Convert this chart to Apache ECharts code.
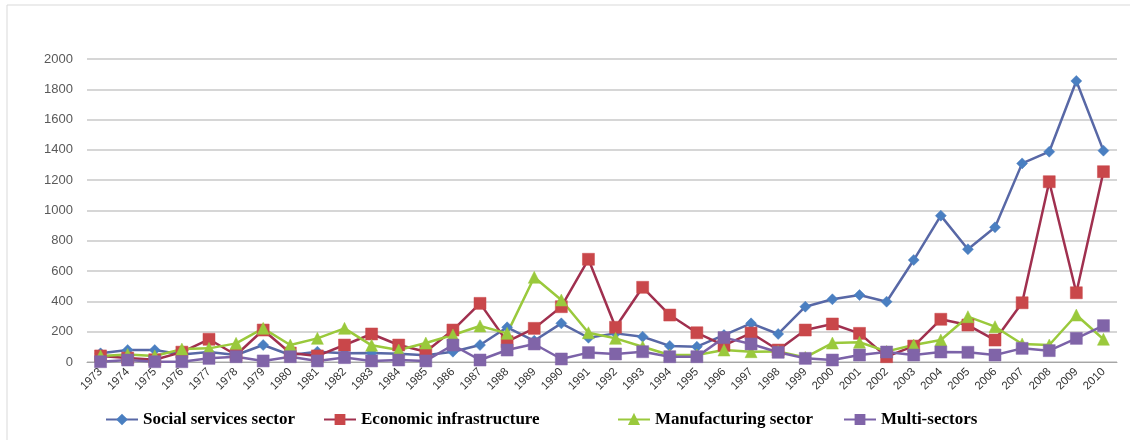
<!DOCTYPE html>
<html>
<head>
<meta charset="utf-8">
<script src="https://cdn.jsdelivr.net/npm/echarts@6/dist/echarts.min.js"></script>
<style>
  html, body { margin: 0; padding: 0; background: #fff; }
  #main { width: 1130px; height: 440px; }
</style>
</head>
<body>
<div id="main"></div>
<script>
var years = [];
for (var y = 1973; y <= 2010; y++) years.push(String(y));

var seriesNames = ['Social services sector', 'Economic infrastructure', 'Manufacturing sector', 'Multi-sectors'];
var social = [57, 79, 79, 50, 66, 46, 112, 46, 68, 57, 60, 55, 45, 68, 112, 229, 140, 255, 160, 189, 167, 106, 101, 178, 255, 185, 365, 414, 442, 398, 673, 966, 744, 889, 1311, 1388, 1855, 1395];
var economic = [40, 26, 15, 65, 150, 46, 211, 59, 40, 112, 185, 112, 68, 211, 387, 134, 222, 365, 678, 229, 493, 310, 193, 110, 191, 79, 211, 251, 189, 35, 105, 282, 244, 145, 391, 1190, 457, 1256];
var manufacturing = [40, 50, 40, 85, 90, 123, 222, 112, 156, 222, 110, 79, 125, 178, 238, 189, 559, 409, 193, 156, 101, 46, 46, 79, 68, 70, 30, 125, 130, 70, 112, 145, 299, 233, 119, 112, 310, 150];
var multi = [2, 13, 2, 2, 24, 35, 7, 35, 7, 29, 7, 13, 7, 112, 13, 79, 119, 20, 62, 53, 68, 35, 35, 161, 119, 64, 24, 13, 46, 66, 46, 66, 64, 46, 90, 75, 156, 240];

var chart = echarts.init(document.getElementById('main'));

function mk(name, data, symbol, size, lineColor, markColor) {
    return {
        name: name,
        type: 'line',
        data: data,
        symbol: symbol,
        symbolSize: size,
        showAllSymbol: true,
        lineStyle: { color: lineColor, width: 2.5 },
        itemStyle: { color: markColor, borderColor: markColor, borderWidth: 0.5 },
        emphasis: { disabled: true }
    };
}

// one legend per item so each can sit where the original puts it
var legendLeft = [100, 318, 612, 838];
var legends = seriesNames.map(function (n, i) {
    return {
        bottom: 7,
        left: legendLeft[i],
        itemWidth: 32,
        itemHeight: 11,
        textStyle: { fontFamily: 'Liberation Serif', fontWeight: 'bold', fontSize: 17, color: '#000' },
        data: [n]
    };
});

var option = {
    animation: false,
    graphic: [{
        type: 'rect',
        shape: { x: 7, y: 5, width: 1140, height: 450 },
        style: { fill: 'none', stroke: '#d9d9d9', lineWidth: 1 }
    }],
    grid: { left: 87, right: 13, top: 59, bottom: 78 },
    legend: legends,
    xAxis: {
        type: 'category',
        data: years,
        boundaryGap: true,
        axisLine: { lineStyle: { color: '#a6a6a6' } },
        axisTick: { show: false },
        axisLabel: { rotate: 45, interval: 0, fontSize: 11.5, color: '#333', fontFamily: 'Liberation Sans', margin: 8 }
    },
    yAxis: {
        type: 'value',
        min: 0,
        max: 2000,
        interval: 200,
        axisLine: { show: false },
        axisTick: { show: false },
        splitLine: { lineStyle: { color: '#c8c8c8', width: 1.5 } },
        axisLabel: {
            fontSize: 13, color: '#595959', fontFamily: 'Liberation Sans', margin: 14,
            formatter: function (v) { return String(v); }
        }
    },
    series: [
        mk(seriesNames[0], social, 'diamond', 11, '#5868a6', '#4a7fc1'),
        mk(seriesNames[1], economic, 'rect', 12, '#a0304f', '#c9474a'),
        mk(seriesNames[2], manufacturing, 'triangle', 12, '#9ac93c', '#9ac93c'),
        mk(seriesNames[3], multi, 'rect', 12, '#7b62a8', '#8064a8')
    ]
};
chart.setOption(option);
</script>
</body>
</html>
